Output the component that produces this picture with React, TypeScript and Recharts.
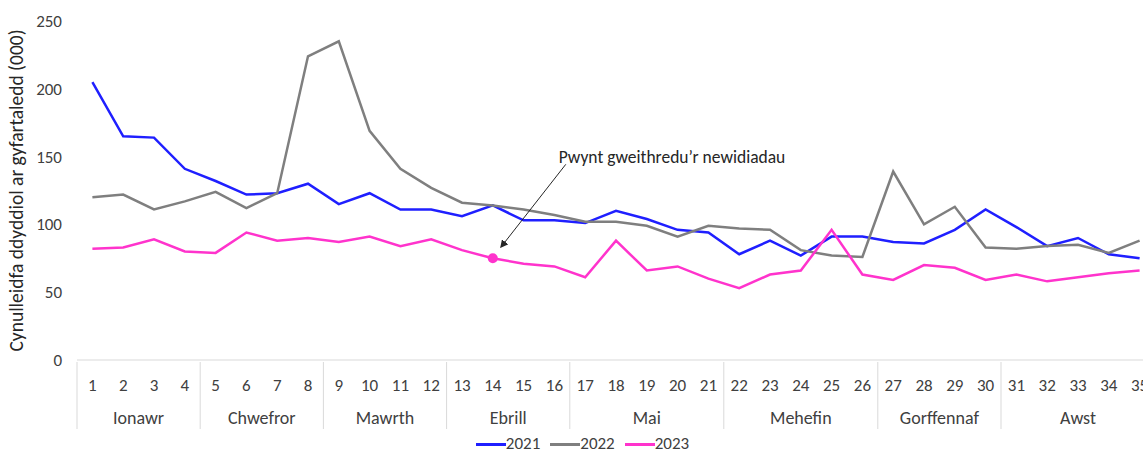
import React from 'react';
import {
  LineChart,
  Line,
  XAxis,
  YAxis,
  Legend,
  ReferenceDot,
  Label,
} from 'recharts';

const weeks = [
  '1', '2', '3', '4', '5', '6', '7', '8', '9', '10', '11', '12', '13', '14', '15', '16', '17', '18',
  '19', '20', '21', '22', '23', '24', '25', '26', '27', '28', '29', '30', '31', '32', '33', '34', '35',
];
const months = ['Ionawr', 'Chwefror', 'Mawrth', 'Ebrill', 'Mai', 'Mehefin', 'Gorffennaf', 'Awst'];
const weeksPerMonth = [4, 4, 4, 4, 5, 5, 4, 5];

const values2021 = [
  205, 165, 164, 141, 132, 122, 123, 130, 115, 123, 111, 111, 106, 114, 103, 103, 101, 110,
  104, 96, 94, 78, 88, 77, 91, 91, 87, 86, 96, 111, 98, 84, 90, 78, 75,
];
const values2022 = [
  120, 122, 111, 117, 124, 112, 123, 224, 235, 169, 141, 127, 116, 114, 111, 107, 102, 102,
  99, 91, 99, 97, 96, 81, 77, 76, 139, 100, 113, 83, 82, 84, 85, 79, 88,
];
const values2023 = [
  82, 83, 89, 80, 79, 94, 88, 90, 87, 91, 84, 89, 81, 75, 71, 69, 61, 88,
  66, 69, 60, 53, 63, 66, 96, 63, 59, 70, 68, 59, 63, 58, 61, 64, 66,
];
const yTicks = [0, 50, 100, 150, 200, 250];

const annotationWeek = '14';
const annotationText = 'Pwynt gweithredu\u2019r newidiadau';

const series = [
  { key: '2021', color: '#1f1fff' },
  { key: '2022', color: '#7f7f7f' },
  { key: '2023', color: '#ff33cc' },
];

const data = weeks.map((w, i) => ({
  week: w,
  '2021': values2021[i],
  '2022': values2022[i],
  '2023': values2023[i],
}));

const FONT = "Carlito, 'Liberation Sans', sans-serif";
const CHART_W = 1165;
const CHART_H = 453;
const MARGIN = { top: 21, right: 10, left: 0, bottom: 0 };
const Y_AXIS_W = 77;
const STEP = (CHART_W - MARGIN.left - MARGIN.right - Y_AXIS_W) / weeks.length;
const GRID = '#d9d9d9';
const TEXT = '#404040';

// first week index of every month
const monthStarts = weeksPerMonth.reduce<number[]>((acc, n, i) => {
  acc.push(i === 0 ? 0 : acc[i - 1] + weeksPerMonth[i - 1]);
  return acc;
}, []);

const WeekTick = (props: any) => {
  const { x, y, payload, index } = props;
  const m = monthStarts.indexOf(index);
  return (
    <g>
      <text
        x={x}
        y={y + 23}
        textAnchor="middle"
        dominantBaseline="central"
        fill={TEXT}
        fontSize={17}
        fontFamily={FONT}
      >
        {payload.value}
      </text>
      {m >= 0 && (
        <g>
          <line x1={x - STEP / 2} x2={x - STEP / 2} y1={y} y2={y + 67} stroke={GRID} />
          <text
            x={x - STEP / 2 + (weeksPerMonth[m] * STEP) / 2}
            y={y + 56}
            textAnchor="middle"
            dominantBaseline="central"
            fill={TEXT}
            fontSize={18}
            fontFamily={FONT}
          >
            {months[m]}
          </text>
        </g>
      )}
    </g>
  );
};

const AnnotatedDot = (props: any) => {
  const { cx, cy } = props;
  return (
    <g>
      <defs>
        <marker id="arrowHead" markerWidth="8" markerHeight="8" refX="7" refY="4" orient="auto">
          <path d="M0,0 L8,4 L0,8 z" fill="#262626" />
        </marker>
      </defs>
      <circle cx={cx} cy={cy} r={5} fill="#ff33cc" />
      <line
        x1={cx + 73}
        y1={cy - 94}
        x2={cx + 8}
        y2={cy - 11}
        stroke="#262626"
        strokeWidth={1}
        markerEnd="url(#arrowHead)"
      />
      <text
        x={cx + 66}
        y={cy - 101}
        dominantBaseline="central"
        fill="#262626"
        fontSize={17.5}
        fontFamily={FONT}
      >
        {annotationText}
      </text>
    </g>
  );
};

const LegendContent = () => (
  <div
    style={{
      display: 'flex',
      justifyContent: 'center',
      gap: 10,
      paddingLeft: 22,
      paddingTop: 8,
      fontFamily: FONT,
      fontSize: 17,
      lineHeight: '18px',
      color: TEXT,
    }}
  >
    {series.map((s) => (
      <div key={s.key} style={{ display: 'flex', alignItems: 'center' }}>
        <span style={{ display: 'inline-block', width: 30, height: 3, background: s.color }} />
        <span>{s.key}</span>
      </div>
    ))}
  </div>
);

const App: React.FC = () => (
  <div
    style={{
      position: 'absolute',
      left: 0,
      top: 0,
      width: 1143,
      height: CHART_H,
      overflow: 'hidden',
      background: '#fff',
    }}
  >
    <LineChart width={CHART_W} height={CHART_H} data={data} margin={MARGIN}>
      <XAxis
        dataKey="week"
        interval={0}
        tickLine={false}
        tickSize={0}
        height={67}
        padding={{ left: STEP / 2, right: STEP / 2 }}
        axisLine={{ stroke: GRID }}
        tick={<WeekTick />}
      />
      <YAxis
        domain={[0, 250]}
        ticks={yTicks}
        width={Y_AXIS_W}
        axisLine={false}
        tickLine={false}
        tickSize={0}
        tickMargin={15}
        tick={{ fill: TEXT, fontSize: 17, fontFamily: FONT }}
      >
        <Label
          value="Cynulleidfa ddyddiol ar gyfartaledd (000)"
          angle={-90}
          position="insideLeft"
          offset={16}
          style={{ textAnchor: 'middle', fill: '#262626', fontSize: 19.5, fontFamily: FONT }}
        />
      </YAxis>
      <Legend
        verticalAlign="bottom"
        height={26}
        wrapperStyle={{ left: 0, width: 1143 }}
        content={<LegendContent />}
      />
      {series.map((s) => (
        <Line
          key={s.key}
          dataKey={s.key}
          name={s.key}
          stroke={s.color}
          strokeWidth={2.5}
          dot={false}
          activeDot={false}
          type="linear"
          isAnimationActive={false}
        />
      ))}
      <ReferenceDot
        x={annotationWeek}
        y={values2023[weeks.indexOf(annotationWeek)]}
        r={5}
        shape={<AnnotatedDot />}
      />
    </LineChart>
  </div>
);

export default App;
